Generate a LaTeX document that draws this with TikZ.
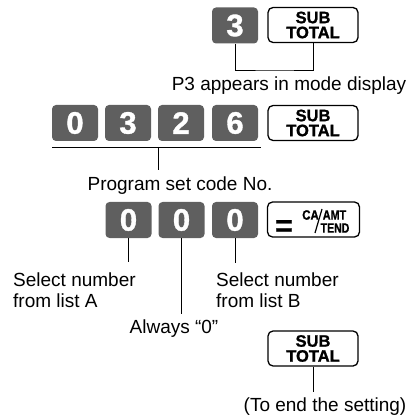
\documentclass[tikz,border=0pt]{standalone}
\usepackage{fontspec}
\usetikzlibrary{calc}
\setmainfont{Liberation Sans}
\newfontfamily\keyfont{Liberation Sans}[BoldFeatures={FakeBold=1.2}]
\definecolor{keygray}{HTML}{5F5F5F}
\begin{document}
\begin{tikzpicture}[x=1pt,y=-1pt,
  graykey/.style={fill=keygray, rounded corners=4pt, minimum width=46pt, minimum height=36pt,
    inner sep=0pt, text=white, font=\keyfont\bfseries\fontsize{31}{31}\selectfont},
  whitekey/.style={draw, line width=1.3pt, rounded corners=5pt, minimum width=90pt, minimum height=35pt,
    inner sep=0pt, align=center, font=\keyfont\bfseries\fontsize{16.5}{15}\selectfont},
  smallkey/.style={inner sep=0pt, font=\keyfont\bfseries\fontsize{13.5}{13.5}\selectfont},
  lbl/.style={inner sep=0pt, font=\fontsize{19}{21}\selectfont},
  conn/.style={line width=0.9pt}]
\useasboundingbox (0,0) rectangle (411,419);
% top row
\node[graykey] (ta) at (235,25.5) {3};
\node[whitekey] (tb) at (313,25) {SUB\\TOTAL};
\coordinate (tm) at (275,70);
\draw[conn] (ta.south) |- (tm) -| (tb.south);
\node[lbl, anchor=base] (p3) at (289,91) {P3 appears in mode display};
% second row
\node[graykey] (r0) at (75,123) {0};
\node[graykey] (r3) at (128,123) {3};
\node[graykey] (r2) at (181,123) {2};
\node[graykey] (r6) at (235,123) {6};
\node[whitekey] (rs) at (313,123) {SUB\\TOTAL};
\coordinate (hl) at (52,147);
\coordinate (hr) at (261,147);
\coordinate (hm) at (158,147);
\coordinate (hd) at (158,170);
\draw[conn] (hl) -- (hr);
\draw[conn] (hm) -- (hd);
\node[lbl, anchor=base] (pc) at (180,191) {Program set code No.};
% third row
\node[graykey] (s1) at (128.5,220) {0};
\node[graykey] (s2) at (181.5,220) {0};
\node[graykey] (s3) at (235,220) {0};
\node[whitekey, minimum width=92pt] (ca) at (313.5,219.5) {};
\node[inner sep=0pt, font=\keyfont\bfseries\fontsize{30}{30}\selectfont] (eq) at ($(ca.center)+(-29.5,8.5)$) {=};
\node[smallkey] (cat) at ($(ca.center)+(-3,-4.5)$) {\scalebox{0.85}[1]{CA}};
\node[smallkey] (amt) at ($(ca.center)+(21,-4.5)$) {\scalebox{0.8}[1]{AMT}};
\node[smallkey] (tend) at ($(ca.center)+(21.5,8.5)$) {\scalebox{0.78}[1]{TEND}};
\coordinate (sl1) at (315,233);
\coordinate (sl2) at (322,209);
\draw[line width=1.2pt] (sl1) -- (sl2);
\coordinate (e1) at (128.5,262);
\coordinate (e2) at (181.5,314);
\coordinate (e3) at (235,263);
\draw[conn] (s1.south) -- (e1);
\draw[conn] (s2.south) -- (e2);
\draw[conn] (s3.south) -- (e3);
\node[lbl, anchor=base west] (sa1) at (13,286) {Select number};
\node[lbl, anchor=base west] (sa2) at (13,307.5) {from list A};
\node[lbl, anchor=base west] (sb1) at (216,286) {Select number};
\node[lbl, anchor=base west] (sb2) at (216,307.5) {from list B};
\node[lbl, anchor=base] (al) at (174,333) {Always “0”};
% bottom
\node[whitekey] (bk) at (313,348.5) {SUB\\TOTAL};
\coordinate (bd) at (313,392);
\draw[conn] (bk.south) -- (bd);
\node[lbl, anchor=base] (te) at (325,411) {(To end the setting)};
\end{tikzpicture}
\end{document}
